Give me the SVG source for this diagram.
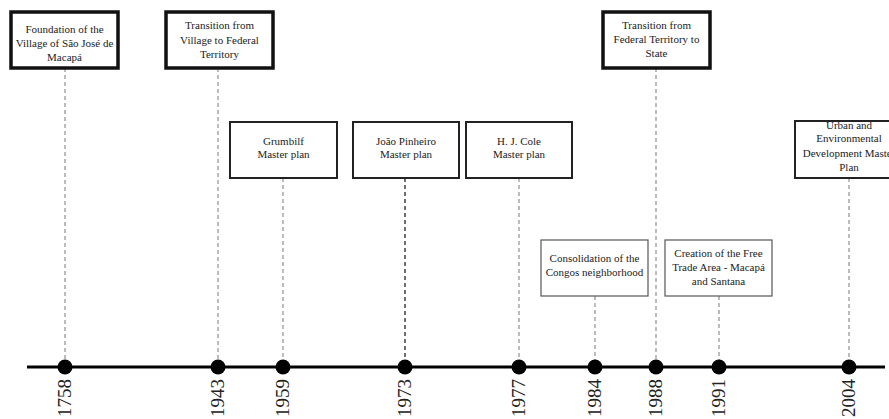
<svg xmlns="http://www.w3.org/2000/svg" width="889" height="419" viewBox="0 0 889 419">
<style>
text{font-family:"Liberation Serif","Times New Roman",serif;fill:#222}
.lbl{font-size:11px;text-anchor:middle}
.yr{font-size:19px;text-anchor:end}
.thick{fill:#fff;stroke:#111;stroke-width:3.5}
.med{fill:#fff;stroke:#222;stroke-width:2}
.thin{fill:#fff;stroke:#555;stroke-width:1.2}
.dash{stroke:#999;stroke-width:1.3;stroke-dasharray:4 3;fill:none}
.dashd{stroke:#222;stroke-width:1.3;stroke-dasharray:4 3;fill:none}
.dot{fill:#000}
</style>
<rect width="889" height="419" fill="#fff"/>
<g id="connectors">
<line class="dash" x1="65" y1="68" x2="65" y2="367"/>
<line class="dash" x1="218" y1="68" x2="218" y2="367"/>
<line class="dash" x1="283" y1="178" x2="283" y2="367"/>
<line class="dashd" x1="405" y1="178" x2="405" y2="367"/>
<line class="dash" x1="519" y1="178" x2="519" y2="367"/>
<line class="dash" x1="595" y1="296" x2="595" y2="367"/>
<line class="dash" x1="656" y1="68" x2="656" y2="367"/>
<line class="dash" x1="719" y1="296" x2="719" y2="367"/>
<line class="dash" x1="849" y1="178" x2="849" y2="367"/>
</g>
<g id="timeline">
<line x1="27" y1="367" x2="885" y2="367" stroke="#000" stroke-width="3"/>
<circle class="dot" cx="65" cy="367" r="7.5"/>
<circle class="dot" cx="218" cy="367" r="7.5"/>
<circle class="dot" cx="283" cy="367" r="7.5"/>
<circle class="dot" cx="405" cy="367" r="7.5"/>
<circle class="dot" cx="519" cy="367" r="7.5"/>
<circle class="dot" cx="595" cy="367" r="7.5"/>
<circle class="dot" cx="656" cy="367" r="7.5"/>
<circle class="dot" cx="719" cy="367" r="7.5"/>
<circle class="dot" cx="849" cy="367" r="7.5"/>
<text class="yr" transform="translate(71,379) rotate(-90)">1758</text>
<text class="yr" transform="translate(224,379) rotate(-90)">1943</text>
<text class="yr" transform="translate(289,379) rotate(-90)">1959</text>
<text class="yr" transform="translate(411,379) rotate(-90)">1973</text>
<text class="yr" transform="translate(525,379) rotate(-90)">1977</text>
<text class="yr" transform="translate(601,379) rotate(-90)">1984</text>
<text class="yr" transform="translate(662,379) rotate(-90)">1988</text>
<text class="yr" transform="translate(725,379) rotate(-90)">1991</text>
<text class="yr" transform="translate(855,379) rotate(-90)">2004</text>
</g>
<g id="n1758">
<rect class="thick" x="11" y="12" width="107" height="56"/>
<text class="lbl" x="64.5" y="33">Foundation of the</text>
<text class="lbl" x="64.5" y="47">Village of São José de</text>
<text class="lbl" x="64.5" y="61">Macapá</text>
</g>
<g id="n1943">
<rect class="thick" x="166" y="12" width="107" height="56"/>
<text class="lbl" x="219.5" y="29">Transition from</text>
<text class="lbl" x="219.5" y="44">Village to Federal</text>
<text class="lbl" x="219.5" y="58">Territory</text>
</g>
<g id="n1959">
<rect class="med" x="230" y="122" width="107" height="56"/>
<text class="lbl" x="283.5" y="145">Grumbilf</text>
<text class="lbl" x="283.5" y="158">Master plan</text>
</g>
<g id="n1973">
<rect class="med" x="353" y="122" width="106" height="56"/>
<text class="lbl" x="406" y="145">João Pinheiro</text>
<text class="lbl" x="406" y="158">Master plan</text>
</g>
<g id="n1977">
<rect class="med" x="466" y="122" width="106" height="56"/>
<text class="lbl" x="519" y="145">H. J. Cole</text>
<text class="lbl" x="519" y="158">Master plan</text>
</g>
<g id="n1984">
<rect class="thin" x="541" y="240" width="107" height="56"/>
<text class="lbl" x="594.5" y="262">Consolidation of the</text>
<text class="lbl" x="594.5" y="276">Congos neighborhood</text>
</g>
<g id="n1988">
<rect class="thick" x="603" y="12" width="107" height="56"/>
<text class="lbl" x="656.5" y="29">Transition from</text>
<text class="lbl" x="656.5" y="43">Federal Territory to</text>
<text class="lbl" x="656.5" y="57">State</text>
</g>
<g id="n1991">
<rect class="thin" x="665" y="240" width="107" height="56"/>
<text class="lbl" x="718.5" y="257">Creation of the Free</text>
<text class="lbl" x="718.5" y="271">Trade Area - Macapá</text>
<text class="lbl" x="718.5" y="285">and Santana</text>
</g>
<g id="n2004">
<rect class="med" x="795" y="121" width="110" height="57"/>
<text class="lbl" x="849" y="129">Urban and</text>
<text class="lbl" x="849" y="142">Environmental</text>
<text class="lbl" x="849" y="157">Development Master</text>
<text class="lbl" x="849" y="171">Plan</text>
</g>
</svg>
